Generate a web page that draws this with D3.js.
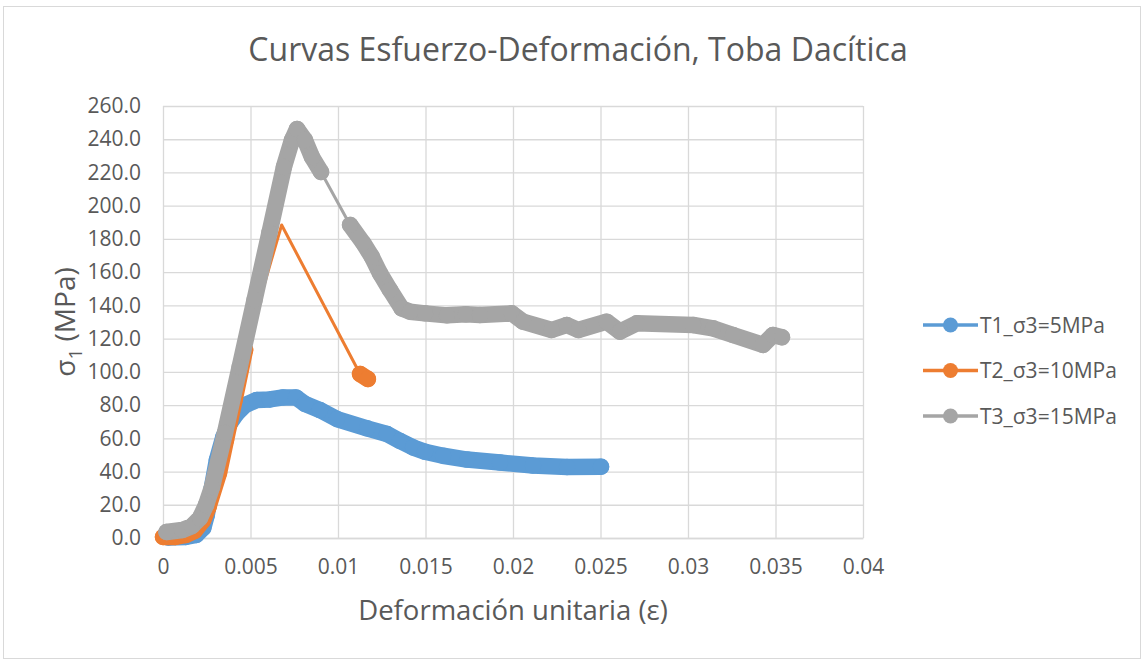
<!DOCTYPE html>
<html>
<head>
<meta charset="utf-8">
<script src="https://cdn.jsdelivr.net/npm/d3@7"></script>
<style>
  html, body { margin: 0; padding: 0; background: #fff; overflow: hidden; }
  svg { display: block; }
  text { font-family: "Open Sans", sans-serif; fill: #595959; }
</style>
</head>
<body>
<div id="chart"></div>
<script>
// tick labels
const xTicks = [0, 0.005, 0.01, 0.015, 0.02, 0.025, 0.03, 0.035, 0.04];
const yTicks = [0, 20, 40, 60, 80, 100, 120, 140, 160, 180, 200, 220, 240, 260];

// T1 (sigma3 = 5 MPa) : one dense run of points  [strain, stress]
const t1Points = [
  [0.0003, 0.3], [0.0013, 0.6], [0.0019, 1.8], [0.0023, 6.0], [0.0025, 13.8],
  [0.0028, 30.7], [0.00308, 46.9], [0.00345, 60.8], [0.00383, 69.2], [0.00423, 75.2],
  [0.00469, 80.0], [0.00537, 83.1], [0.00611, 83.4], [0.00686, 84.6], [0.0076, 84.6],
  [0.00811, 80.7], [0.00897, 77.0], [0.00994, 71.6], [0.01166, 66.0], [0.0128, 62.6],
  [0.01354, 58.4], [0.01429, 54.5], [0.01497, 51.9], [0.016, 49.5], [0.01737, 47.2],
  [0.01926, 45.4], [0.02114, 43.6], [0.02309, 42.7], [0.02503, 42.9]
];

// T2 (sigma3 = 10 MPa)
const t2Rise = [
  [0, 0.6], [0.0007, 0.6], [0.0013, 1.8], [0.0018, 4.2], [0.0023, 10.8],
  [0.0026, 18.7], [0.0032, 39.1], [0.0036, 59.0], [0.00409, 83.1], [0.00469, 113.2]
];
const t2Peak = [[0.00678, 188.4]];
const t2Tail = [[0.01126, 98.7], [0.01171, 95.7]];

// T3 (sigma3 = 15 MPa)
const t3Rise = [
  [0.0002, 3.6], [0.0011, 4.8], [0.00166, 7.2], [0.00211, 12.0], [0.00246, 19.9],
  [0.0028, 30.7], [0.00354, 63.2], [0.00438, 102.9], [0.00523, 143.2], [0.00608, 183.6],
  [0.00691, 223.3], [0.00737, 239.5], [0.00766, 246.2], [0.00811, 239.5], [0.00851, 229.3],
  [0.00903, 220.3]
];
const t3Plateau = [
  [0.01069, 188.4], [0.01145, 177.4], [0.01193, 169.3], [0.0124, 159.3], [0.01297, 149.3],
  [0.01364, 138.2], [0.01411, 136.2], [0.01497, 135.2], [0.01623, 134.0], [0.01731, 134.6],
  [0.01811, 134.2], [0.01993, 135.2], [0.02057, 130.2], [0.02221, 125.2], [0.02307, 128.2],
  [0.02373, 125.2], [0.02535, 130.2], [0.02611, 124.2], [0.02707, 129.2], [0.03029, 128.2],
  [0.03143, 126.2], [0.03257, 122.2], [0.03429, 116.2], [0.03486, 122.2], [0.03537, 120.8]
];

const series = [
  { name: "T1_σ3=5MPa", color: "#5b9bd5", runs: [t1Points] },
  { name: "T2_σ3=10MPa", color: "#ed7d31", runs: [t2Rise, t2Peak, t2Tail] },
  { name: "T3_σ3=15MPa", color: "#a5a5a5", runs: [t3Rise, t3Plateau] }
];

const width = 1142, height = 660;
const margin = { top: 106, right: 279, bottom: 122, left: 163 };
const innerWidth = width - margin.left - margin.right;
const innerHeight = height - margin.top - margin.bottom;
const bandWidth = 16.5;

const svg = d3.select("#chart").append("svg")
  .attr("width", width)
  .attr("height", height);

// chart border
svg.append("rect")
  .attr("x", 3.5).attr("y", 6.5)
  .attr("width", width - 5).attr("height", height - 8)
  .attr("fill", "#fff")
  .attr("stroke", "#d9d9d9");

svg.append("text")
  .attr("x", 578).attr("y", 61)
  .attr("text-anchor", "middle")
  .style("font-size", "32px")
  .text("Curvas Esfuerzo-Deformación, Toba Dacítica");

const inner = svg.append("g")
  .attr("transform", `translate(${margin.left},${margin.top})`);

const x = d3.scaleLinear().domain([0, 0.04]).range([0, innerWidth]);
const y = d3.scaleLinear().domain([0, 260]).range([innerHeight, 0]);

// gridlines
inner.append("g").selectAll("line").data(yTicks).join("line")
  .attr("x1", 0).attr("x2", innerWidth)
  .attr("y1", d => y(d) + 0.5).attr("y2", d => y(d) + 0.5)
  .attr("stroke", "#d9d9d9").attr("stroke-width", 1.3);
inner.append("g").selectAll("line").data(xTicks).join("line")
  .attr("y1", 0).attr("y2", innerHeight)
  .attr("x1", d => x(d) + 0.5).attr("x2", d => x(d) + 0.5)
  .attr("stroke", "#d9d9d9").attr("stroke-width", 1.3);

// axes (labels only, Excel style)
const xAxis = d3.axisBottom(x).tickValues(xTicks).tickSize(0).tickPadding(21)
  .tickFormat(d => d3.format("~g")(d));
const yAxis = d3.axisLeft(y).tickValues(yTicks).tickSize(0).tickPadding(22)
  .tickFormat(d3.format(".1f"));

inner.append("g")
  .attr("transform", `translate(0,${innerHeight})`)
  .call(xAxis)
  .call(g => g.select(".domain").attr("stroke", "#d9d9d9").attr("stroke-width", 1.3))
  .selectAll("text").style("font-size", "21px").attr("fill", "#595959");

inner.append("g")
  .call(yAxis)
  .call(g => g.select(".domain").remove())
  .selectAll("text").style("font-size", "21px").attr("fill", "#595959");

// series
const line = d3.line().x(d => x(d[0])).y(d => y(d[1]));

series.forEach(s => {
  const g = inner.append("g");
  // connecting line through every point
  g.append("path")
    .attr("d", line(s.runs.flat()))
    .attr("fill", "none")
    .attr("stroke", s.color)
    .attr("stroke-width", 3)
    .attr("stroke-linejoin", "round");
  // dense marker runs: overlapping markers look like a thick band
  s.runs.filter(r => r.length > 1).forEach(r => {
    g.append("path")
      .attr("d", line(r))
      .attr("fill", "none")
      .attr("stroke", s.color)
      .attr("stroke-width", bandWidth)
      .attr("stroke-linecap", "round")
      .attr("stroke-linejoin", "round");
    g.selectAll(null).data(r).join("circle")
      .attr("cx", d => x(d[0]))
      .attr("cy", d => y(d[1]))
      .attr("r", bandWidth / 2)
      .attr("fill", s.color);
  });
});

// axis titles
svg.append("text")
  .attr("x", margin.left + innerWidth / 2).attr("y", 620)
  .attr("text-anchor", "middle")
  .style("font-size", "27.5px")
  .text("Deformación unitaria (ε)");

const yTitle = svg.append("text")
  .attr("transform", `translate(75, ${margin.top + innerHeight / 2}) rotate(-90)`)
  .attr("text-anchor", "middle")
  .style("font-size", "28px");
yTitle.append("tspan").text("σ");
yTitle.append("tspan").attr("dy", 7).style("font-size", "19px").text("1");
yTitle.append("tspan").attr("dy", -7).text(" (MPa)");

// legend
const legend = svg.append("g").attr("transform", "translate(923, 325)");
series.forEach((s, i) => {
  const row = legend.append("g").attr("transform", `translate(0, ${i * 45.5})`);
  row.append("line")
    .attr("x1", 0).attr("x2", 55)
    .attr("stroke", s.color).attr("stroke-width", 3.5);
  row.append("circle")
    .attr("cx", 27.5).attr("r", 7.5)
    .attr("fill", s.color);
  row.append("text")
    .attr("x", 57).attr("dy", "0.36em")
    .style("font-size", "21px")
    .text(s.name);
});
</script>
</body>
</html>
